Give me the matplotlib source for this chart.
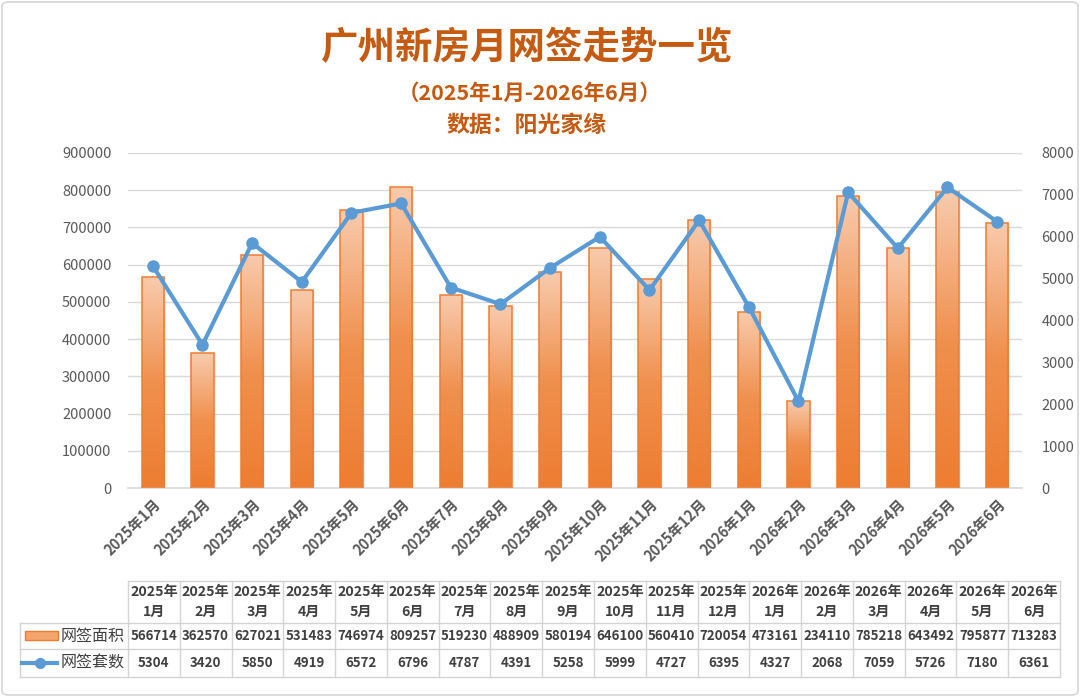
import numpy as np
import matplotlib
matplotlib.use("Agg")
import matplotlib.pyplot as plt
from matplotlib.colors import LinearSegmentedColormap
from matplotlib.patches import Rectangle, FancyBboxPatch
from matplotlib.lines import Line2D

plt.rcParams['font.family'] = ['Noto Sans CJK SC', 'DejaVu Sans']

# data
months = ['2025年1月', '2025年2月', '2025年3月', '2025年4月', '2025年5月', '2025年6月',
          '2025年7月', '2025年8月', '2025年9月', '2025年10月', '2025年11月', '2025年12月',
          '2026年1月', '2026年2月', '2026年3月', '2026年4月', '2026年5月', '2026年6月']
area = [566714, 362570, 627021, 531483, 746974, 809257, 519230, 488909, 580194,
        646100, 560410, 720054, 473161, 234110, 785218, 643492, 795877, 713283]
units = [5304, 3420, 5850, 4919, 6572, 6796, 4787, 4391, 5258,
         5999, 4727, 6395, 4327, 2068, 7059, 5726, 7180, 6361]
area_name = '网签面积'
units_name = '网签套数'

W, H = 1080, 697
ORANGE = '#ED7D31'
BLUE = '#5B9BD5'
GRID = '#D9D9D9'
TXT = '#595959'
TITLE = '#C55A11'

def fx(p):
    return p / W

def fy(p):
    return 1 - p / H

fig = plt.figure(figsize=(W / 100, H / 100), dpi=100)

# outer frame
fig.patches.append(FancyBboxPatch((fx(2), fy(695)), fx(1076), 693 / H,
                                  boxstyle='round,pad=0,rounding_size=0.006',
                                  transform=fig.transFigure, fill=False,
                                  edgecolor='#D6D6D6', lw=1.2))

# titles
fig.text(fx(527), fy(48), '广州新房月网签走势一览', ha='center', va='center',
         fontsize=27, fontweight='bold', color=TITLE)
fig.text(fx(530), fy(93), '（2025年1月-2026年6月）', ha='center', va='center',
         fontsize=15.5, fontweight='bold', color=TITLE)
fig.text(fx(527), fy(125), '数据：阳光家缘', ha='center', va='center',
         fontsize=16.5, fontweight='bold', color=TITLE)

# plot area
ax = fig.add_axes([fx(128), fy(488), (1022 - 128) / W, (488 - 153) / H])
x = np.arange(len(months))
bw = 0.45
cmap = LinearSegmentedColormap.from_list('bar', [ORANGE, '#F0904E', '#F8CBAD'])
grad = np.linspace(0, 1, 256).reshape(-1, 1)

bars = ax.bar(x, area, bw, facecolor='none', edgecolor=ORANGE, lw=1.1, zorder=3)
for b in bars:
    # soft shadow
    ax.add_patch(Rectangle((b.get_x() + 0.04, 0), b.get_width(), b.get_height(),
                           facecolor='#000000', alpha=0.06, lw=0, zorder=1.5))
    im = ax.imshow(grad, extent=[b.get_x(), b.get_x() + b.get_width(), 0, b.get_height()],
                   origin='lower', aspect='auto', cmap=cmap, zorder=2)
    im.set_clip_path(b)

ax.set_xlim(-0.5, len(months) - 0.5)
ax.set_ylim(0, 900000)
ax.set_yticks(np.arange(0, 900001, 100000))
ax.yaxis.grid(True, color=GRID, lw=1)
ax.set_axisbelow(True)
for s in ['top', 'left', 'right']:
    ax.spines[s].set_visible(False)
ax.spines['bottom'].set_color(GRID)
ax.spines['bottom'].set_linewidth(1.2)
ax.tick_params(axis='both', length=0, labelsize=10.5, labelcolor=TXT)
ax.tick_params(axis='y', pad=12)
ax.set_xticks(x)
ax.set_xticklabels(months, rotation=45, ha='right', rotation_mode='anchor',
                   fontweight='bold')
ax.tick_params(axis='x', pad=6)
for lab in ax.get_yticklabels():
    lab.set_fontweight('medium')

ax2 = ax.twinx()
ax2.plot(x, units, color=BLUE, lw=3, marker='o', ms=8, zorder=4)
ax2.set_ylim(0, 8000)
ax2.set_yticks(np.arange(0, 8001, 1000))
for s in ax2.spines.values():
    s.set_visible(False)
ax2.tick_params(axis='y', length=0, labelsize=10.5, labelcolor=TXT, pad=14)
for lab in ax2.get_yticklabels():
    lab.set_fontweight('medium')

# data table below
t_left, t_right, lab_left = 128, 1060, 20
r_top, r_head, r_mid, r_bot = 581, 623, 649, 677
n = len(months)
cw = (t_right - t_left) / n
lc = '#D4D4D4'

def hline(x0, x1, y):
    fig.add_artist(Line2D([fx(x0), fx(x1)], [fy(y), fy(y)], color=lc, lw=1,
                          transform=fig.transFigure))

def vline(xp, y0, y1):
    fig.add_artist(Line2D([fx(xp), fx(xp)], [fy(y0), fy(y1)], color=lc, lw=1,
                          transform=fig.transFigure))

hline(t_left, t_right, r_top)
for yy in (r_head, r_mid, r_bot):
    hline(lab_left, t_right, yy)
vline(lab_left, r_head, r_bot)
for i in range(n + 1):
    vline(t_left + i * cw, r_top, r_bot)

tkw = dict(ha='center', va='center', fontweight='bold', color='#404040',
           transform=fig.transFigure)
for i, m in enumerate(months):
    cx = t_left + (i + 0.5) * cw
    yr, mo = m.split('年')
    fig.text(fx(cx), fy(592), yr + '年', fontsize=10.2, **tkw)
    fig.text(fx(cx), fy(612), mo, fontsize=10.2, **tkw)
    fig.text(fx(cx), fy((r_head + r_mid) / 2), str(area[i]), fontsize=9.6, **tkw)
    fig.text(fx(cx), fy((r_mid + r_bot) / 2), str(units[i]), fontsize=9.6, **tkw)

# legend keys in the table
fig.patches.append(Rectangle((fx(25), fy(640)), fx(33), 9 / H, transform=fig.transFigure,
                             facecolor='#F4A46E', edgecolor=ORANGE, lw=1))
fig.add_artist(Line2D([fx(22), fx(57)], [fy(663), fy(663)], color=BLUE, lw=3,
                      transform=fig.transFigure))
fig.add_artist(Line2D([fx(40)], [fy(663)], color=BLUE, marker='o', ms=7,
                      transform=fig.transFigure))
lkw = dict(ha='left', va='center', fontsize=11.5, color='#404040', transform=fig.transFigure)
fig.text(fx(61), fy((r_head + r_mid) / 2), area_name, **lkw)
fig.text(fx(61), fy((r_mid + r_bot) / 2), units_name, **lkw)

fig.savefig('out.png', dpi=100, facecolor='white')
